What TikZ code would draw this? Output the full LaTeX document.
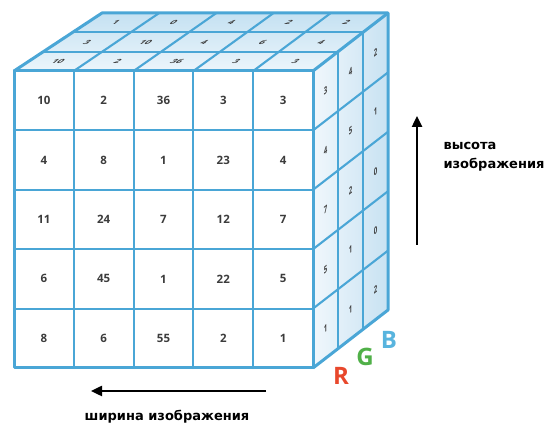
\documentclass[tikz,border=0pt]{standalone}
\usepackage{fontspec}
\setmainfont{Open Sans}
\newfontfamily\numfont{Open Sans}
\newfontfamily\lblfont{DejaVu Sans}
\usetikzlibrary{arrows.meta}
\definecolor{edge}{RGB}{74,166,214}
\definecolor{numc}{RGB}{60,60,60}
\definecolor{topB}{RGB}{196,225,242}
\definecolor{topF}{RGB}{236,245,251}
\definecolor{sideL}{RGB}{240,247,252}
\definecolor{sideR}{RGB}{200,226,242}
\definecolor{colR}{RGB}{232,72,44}
\definecolor{colG}{RGB}{80,176,72}
\definecolor{colB}{RGB}{88,180,222}
\begin{document}
\begin{tikzpicture}[x=1pt,y=-1pt,
  declare function={px(\a,\c)=14+59.8*\a+\c/3*(88-2.6*\a); py(\b,\c)=71+59.4*\b-\c*19.333;},
  grid/.style={draw=edge, line width=2.1pt, line cap=round},
  outer/.style={draw=edge, line width=3pt, line join=round},
  fnum/.style={font=\numfont\bfseries\fontsize{11.5}{14}\selectfont, text=numc},
  tnum/.style={font=\numfont\bfseries\fontsize{9.5}{10}\selectfont, text=numc, xslant=1.2, yscale=0.6},
  rnum/.style={font=\numfont\bfseries\fontsize{10}{11}\selectfont, text=numc, yslant=0.77, xscale=0.6},
  arr/.style={line width=2.4pt, -{Triangle[length=11pt,width=10pt]}},
  lbl/.style={font=\lblfont\bfseries\fontsize{13}{19}\selectfont, align=left},
  rgb/.style={font=\numfont\bfseries\fontsize{24}{26}\selectfont}
]
\useasboundingbox (0,0) rectangle (549,427);
% faces
\fill[white] ({px(0,0)},{py(0,0)}) rectangle ({px(5,0)},{py(5,0)});
\shade[top color=topB, bottom color=topF]
  ({px(0,0)},{py(0,0)}) -- ({px(5,0)},{py(0,0)}) -- ({px(5,3)},{py(0,3)}) -- ({px(0,3)},{py(0,3)}) -- cycle;
\shade[left color=sideL, right color=sideR]
  ({px(5,0)},{py(0,0)}) -- ({px(5,0)},{py(5,0)}) -- ({px(5,3)},{py(5,3)}) -- ({px(5,3)},{py(0,3)}) -- cycle;
% grid lines
\foreach \i in {1,...,4} {
  \draw[grid] ({px(\i,0)},{py(0,0)}) -- ({px(\i,0)},{py(5,0)});
  \draw[grid] ({px(0,0)},{py(\i,0)}) -- ({px(5,0)},{py(\i,0)});
  \draw[grid] ({px(\i,0)},{py(0,0)}) -- ({px(\i,3)},{py(0,3)});
  \draw[grid] ({px(5,0)},{py(\i,0)}) -- ({px(5,3)},{py(\i,3)});
}
\foreach \k in {1,2} {
  \draw[grid] ({px(0,\k)},{py(0,\k)}) -- ({px(5,\k)},{py(0,\k)});
  \draw[grid] ({px(5,\k)},{py(0,\k)}) -- ({px(5,\k)},{py(5,\k)});
}
% outlines
\draw[outer] ({px(0,0)},{py(0,0)}) rectangle ({px(5,0)},{py(5,0)});
\draw[outer] ({px(0,0)},{py(0,0)}) -- ({px(0,3)},{py(0,3)}) -- ({px(5,3)},{py(0,3)}) -- ({px(5,3)},{py(5,3)}) -- ({px(5,0)},{py(5,0)});
\draw[outer] ({px(5,0)},{py(0,0)}) -- ({px(5,3)},{py(0,3)});
% front numbers
\foreach \row [count=\j from 0] in {{10,2,36,3,3},{4,8,1,23,4},{11,24,7,12,7},{6,45,1,22,5},{8,6,55,2,1}} {
  \foreach \v [count=\i from 0] in \row {
    \node[fnum] (f-\i-\j) at ({px(\i+0.5,0)},{py(\j+0.5,0)}) {\v};
  }
}
% top numbers
\foreach \row [count=\k from 0] in {{10,2,36,3,3},{3,10,4,6,4},{1,0,4,2,2}} {
  \foreach \v [count=\i from 0] in \row {
    \node[tnum] (t-\i-\k) at ({px(\i+0.5,\k+0.5)},{py(0,\k+0.5)}) {\v};
  }
}
% right numbers
\foreach \col [count=\k from 0] in {{3,4,7,5,1},{4,5,2,1,1},{2,1,0,0,2}} {
  \foreach \v [count=\j from 0] in \col {
    \node[rnum] (r-\j-\k) at ({px(5,\k+0.5)},{py(\j+0.5,\k+0.5)}) {\v};
  }
}
% RGB
\node[rgb, text=colR] (R) at (341,376) {R};
\node[rgb, text=colG] (G) at (365,357) {G};
\node[rgb, text=colB] (B) at (389,340) {B};
% arrows
\coordinate (hs) at (417,245);
\coordinate (he) at (417,116);
\draw[arr] (hs) -- (he);
\coordinate (ws) at (266,391);
\coordinate (we) at (91,391);
\draw[arr] (ws) -- (we);
\node[lbl, anchor=west] (hl) at (440,157) {высота\\изображения};
\node[lbl] (wl) at (167,417) {ширина изображения};
\end{tikzpicture}
\end{document}
